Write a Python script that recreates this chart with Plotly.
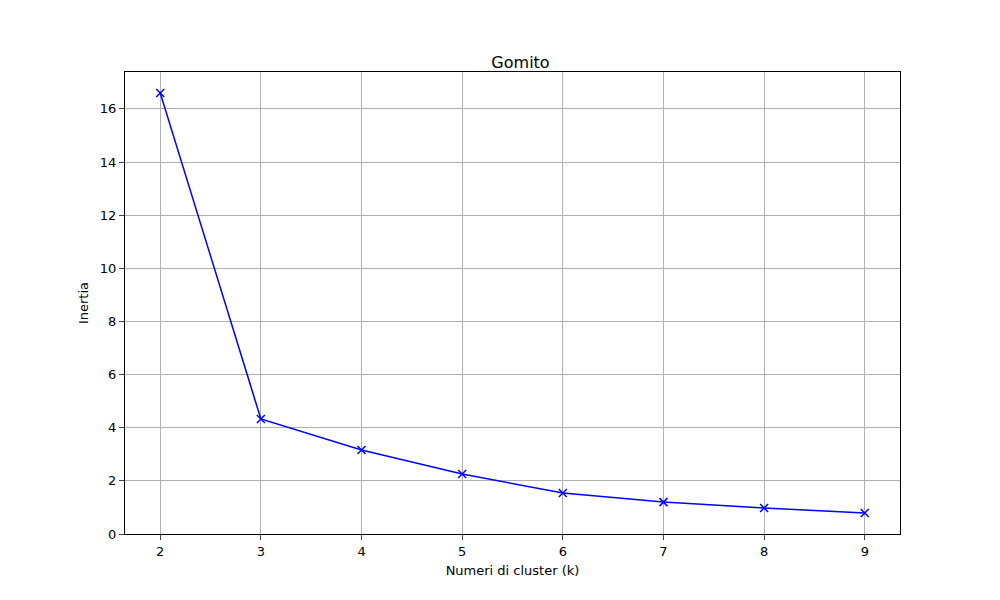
import plotly.graph_objects as go

k_values = [2, 3, 4, 5, 6, 7, 8, 9]
inertia = [16.6, 4.33, 3.16, 2.26, 1.54, 1.2, 0.98, 0.79]

fig = go.Figure()
fig.add_trace(go.Scatter(
    x=k_values, y=inertia, mode='lines+markers',
    line=dict(color='blue', width=1.5),
    marker=dict(symbol='x-thin', size=8, color='blue', line=dict(color='blue', width=1.5))
))

ax = dict(showline=True, linecolor='black', mirror=True, ticks='outside',
          showgrid=True, gridcolor='#b0b0b0', zeroline=False,
          tickfont=dict(size=13, color='black'))

fig.update_layout(
    width=1000, height=600,
    margin=dict(l=117, r=108, t=64, b=74),
    plot_bgcolor='white', paper_bgcolor='white',
    font=dict(family='DejaVu Sans', color='black'),
    title=dict(text='Gomito', x=0.5125, y=0.9, yanchor='bottom', xanchor='center', font=dict(size=16)),
    showlegend=False,
    xaxis=dict(ax, range=[1.65, 9.35], dtick=1,
               title=dict(text='Numeri di cluster (k)', font=dict(size=13), standoff=8)),
    yaxis=dict(ax, range=[0, 17.39], dtick=2,
               title=dict(text='Inertia', font=dict(size=13), standoff=8)),
)

fig.write_html("out.html")
